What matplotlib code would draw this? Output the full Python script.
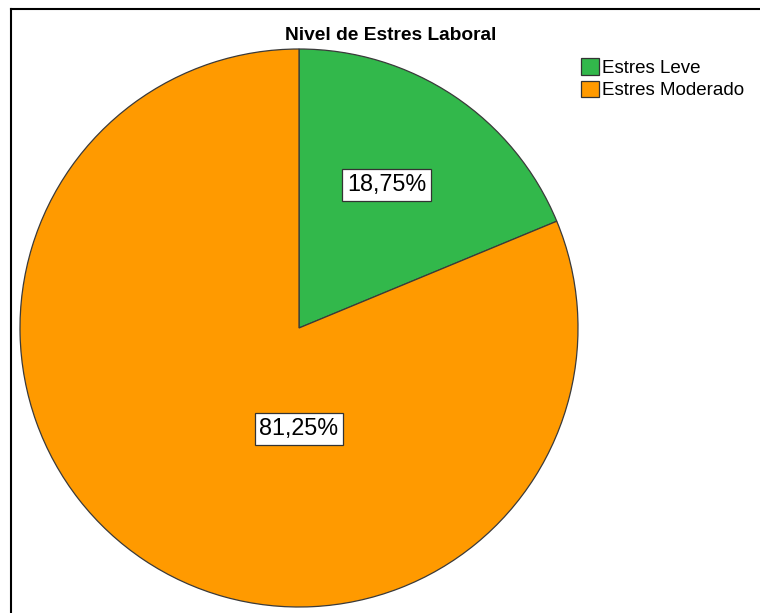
import matplotlib
matplotlib.use("Agg")
import matplotlib.pyplot as plt
from matplotlib.lines import Line2D
from matplotlib.patches import Patch

categories = ["Estres Leve", "Estres Moderado"]
values = [18.75, 81.25]
labels = ["18,75%", "81,25%"]
colors = ["#32B84B", "#FF9A00"]
title = "Nivel de Estres Laboral"

W, H = 760, 613
fig = plt.figure(figsize=(W / 100, H / 100), dpi=100)
ax = fig.add_axes([0, 0, 1, 1])
ax.set_xlim(0, W)
ax.set_ylim(0, H)
ax.set_aspect("equal")
ax.axis("off")

plt.rcParams["font.family"] = ["Liberation Sans", "DejaVu Sans"]

wedges, _ = ax.pie(values, colors=colors, startangle=90, counterclock=False,
                   center=(299, H - 328), radius=279,
                   wedgeprops=dict(edgecolor="#3a3a3a", linewidth=0.9))
ax.set_xlim(0, W)
ax.set_ylim(0, H)

label_pos = [(386.5, H - 185), (299, H - 429)]
for (x, y), t in zip(label_pos, labels):
    ax.text(x, y, t, ha="center", va="center", fontsize=16.8,
            family=["Liberation Sans", "DejaVu Sans"], color="black",
            bbox=dict(boxstyle="square,pad=0.2", facecolor="white",
                      edgecolor="#333333", linewidth=0.9))

ax.text(390.5, H - 36, title, ha="center", va="center", fontsize=13.8,
        fontweight="bold", family=["Liberation Sans", "DejaVu Sans"])

handles = [Patch(facecolor=c, edgecolor="#333333", linewidth=0.9) for c in colors]
ax.legend(handles, categories, loc="upper left",
          bbox_to_anchor=(580.7 / W, 1 - 58 / H), frameon=False,
          borderpad=0, borderaxespad=0, handlelength=1.0, handleheight=1.0,
          handletextpad=0.15, labelspacing=0.2,
          prop=dict(family=["Liberation Sans", "DejaVu Sans"], size=13.5))

fig.add_artist(Line2D([11 / W, 11 / W], [0, 1 - 8.5 / H], transform=fig.transFigure,
                      color="black", linewidth=1.5))
fig.add_artist(Line2D([11 / W, 1], [1 - 8.5 / H, 1 - 8.5 / H], transform=fig.transFigure,
                      color="black", linewidth=1.5))

fig.savefig("out.png", dpi=100, facecolor="white")
